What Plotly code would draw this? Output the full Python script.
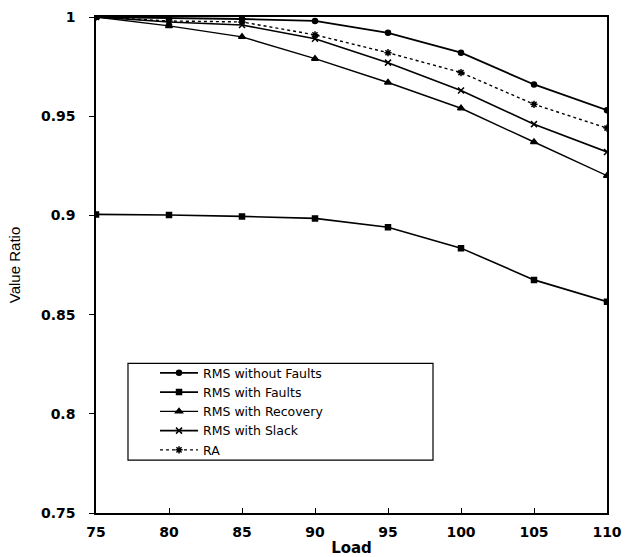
import plotly.graph_objects as go

load = [75, 80, 85, 90, 95, 100, 105, 110]
rms_without_faults = [1.0, 0.9995, 0.999, 0.998, 0.992, 0.982, 0.966, 0.953]
rms_with_faults = [0.9005, 0.9002, 0.8995, 0.8985, 0.894, 0.8835, 0.8675, 0.8565]
rms_with_recovery = [1.0, 0.9955, 0.990, 0.979, 0.967, 0.954, 0.937, 0.920]
rms_with_slack = [1.0, 0.9975, 0.996, 0.989, 0.977, 0.963, 0.946, 0.932]
ra = [1.0, 0.998, 0.9975, 0.991, 0.982, 0.972, 0.956, 0.944]

y_ticks = [0.75, 0.8, 0.85, 0.9, 0.95, 1.0]
y_tick_labels = ["0.75", "0.8", "0.85", "0.9", "0.95", "1"]

series = [
    ("RMS without Faults", rms_without_faults, "circle", 5, "solid", 1.8),
    ("RMS with Faults", rms_with_faults, "square", 5, "solid", 1.6),
    ("RMS with Recovery", rms_with_recovery, "triangle-up", 6, "solid", 1.4),
    ("RMS with Slack", rms_with_slack, "x-thin-open", 6, "solid", 1.6),
    ("RA", ra, "asterisk-open", 6, "dot", 1.4),
]

fig = go.Figure()
for name, vals, sym, size, dash, w in series:
    fig.add_trace(go.Scatter(
        x=load, y=vals, name=name, mode="lines+markers",
        line=dict(color="black", width=w, dash=dash),
        marker=dict(symbol=sym, size=size, color="black",
                    line=dict(color="black", width=1.5)),
    ))

tickfont = dict(size=14, family="DejaVu Sans, sans-serif", weight="bold")

# legend frame (layout element)
fig.add_shape(type="rect", xref="paper", yref="paper",
              x0=0.0626, x1=0.6595, y0=0.1066, y1=0.3018,
              line=dict(color="black", width=1.2), fillcolor="white", layer="below")

fig.update_layout(
    width=626, height=557,
    margin=dict(l=96, r=19, t=17, b=44),
    paper_bgcolor="white", plot_bgcolor="white",
    font=dict(family="DejaVu Sans, sans-serif", color="black", size=13),
    showlegend=True,
    legend=dict(
        x=0.1155, y=0.312, xanchor="left", yanchor="top",
        borderwidth=0, bgcolor="rgba(0,0,0,0)",
        font=dict(size=12.5, family="DejaVu Sans, sans-serif"),
        tracegroupgap=0, itemwidth=38,
    ),
    xaxis=dict(
        range=[75, 110], tickmode="array", tickvals=load,
        ticks="inside", ticklen=5, tickcolor="black",
        showline=True, linecolor="black", linewidth=1.5, mirror=True,
        showgrid=False, zeroline=False, automargin=False,
        tickfont=tickfont, ticklabelstandoff=5,
        title=dict(text="Load", font=dict(size=15, family="DejaVu Sans, sans-serif", weight="bold"), standoff=7),
    ),
    yaxis=dict(
        range=[0.75, 1.0], tickmode="array",
        tickvals=y_ticks, ticktext=y_tick_labels,
        ticks="outside", ticklen=5, tickcolor="black",
        showline=True, linecolor="black", linewidth=1.5, mirror=True,
        showgrid=False, zeroline=False, automargin=False,
        tickfont=tickfont, ticklabelstandoff=11,
        title=dict(text="Value Ratio", font=dict(size=15, family="Liberation Sans Narrow, Arial Narrow, sans-serif"), standoff=17),
    ),
)

fig.write_html("out.html", config={"displayModeBar": False},
               post_script="document.body.style.margin='0';")
